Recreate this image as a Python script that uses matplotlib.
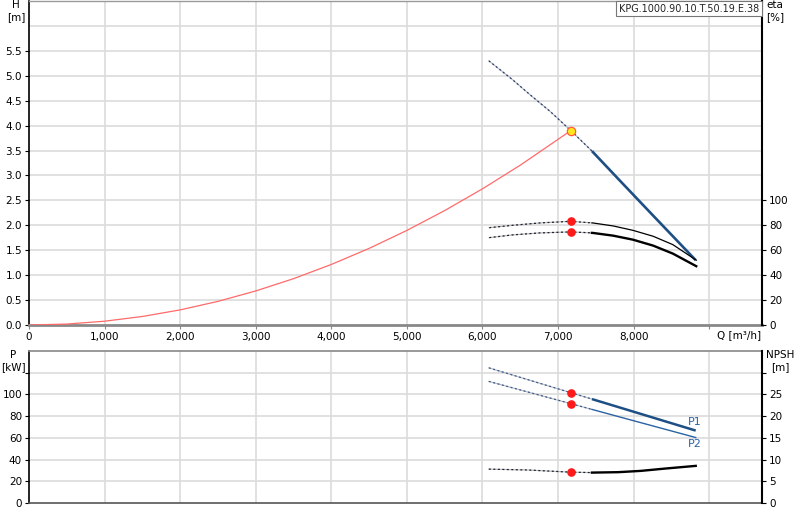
import matplotlib
matplotlib.use("Agg")
import matplotlib.pyplot as plt
from matplotlib.ticker import FuncFormatter

# ---------------- data ----------------
q_sys = [0, 500, 1000, 1500, 2000, 2500, 3000, 3500, 4000, 4500, 5000, 5500, 6000, 6500, 7170]
h_sys = [0.0, 0.019, 0.076, 0.171, 0.303, 0.474, 0.683, 0.929, 1.214, 1.536, 1.897, 2.295, 2.731, 3.205, 3.90]

q_pump = [6085, 6400, 6630, 6900, 7170, 7443, 7817, 8300, 8823]
h_pump = [5.30, 4.92, 4.62, 4.28, 3.90, 3.50, 2.90, 2.13, 1.30]

q_eta = [6090, 6400, 6760, 7165, 7460, 7730, 7990, 8260, 8520, 8830]
eta1 = [78.1, 80.0, 81.9, 83.2, 81.9, 79.5, 76.0, 71.2, 64.5, 52.0]
eta2 = [70.1, 72.3, 73.9, 74.7, 73.9, 71.7, 68.5, 63.7, 57.3, 47.2]

q_pow = [6085, 7170, 7450, 8000, 8823]
p1 = [124.5, 101.6, 95.7, 84.1, 66.7]
p2 = [112.0, 91.5, 86.2, 75.8, 60.3]

q_npsh = [6085, 6600, 7170, 7450, 7800, 8100, 8400, 8823]
npsh = [7.8, 7.6, 7.1, 7.0, 7.1, 7.4, 7.9, 8.55]

q_duty = 7170
h_duty = 3.90
eta1_duty, eta2_duty = 83.2, 74.7
p1_duty, p2_duty = 101.6, 91.5
npsh_duty = 7.1
q_solid = 7450  # start of the solid (valid) part of the curves

x_ticks = [0, 1000, 2000, 3000, 4000, 5000, 6000, 7000, 8000, 9000]
x_labels = ["0", "1,000", "2,000", "3,000", "4,000", "5,000", "6,000", "7,000", "8,000", ""]
h_ticks = [0.0, 0.5, 1.0, 1.5, 2.0, 2.5, 3.0, 3.5, 4.0, 4.5, 5.0, 5.5]
eta_ticks = [0, 20, 40, 60, 80, 100]
p_ticks = [0, 20, 40, 60, 80, 100, 120]
p_labels = ["0", "20", "40", "60", "80", "100", ""]
npsh_ticks = [0, 5, 10, 15, 20, 25, 30]
npsh_labels = ["0", "5", "10", "15", "20", "25", ""]

title = "KPG.1000.90.10.T.50.19.E.38"

# ---------------- style ----------------
plt.rcParams['font.family'] = ['DejaVu Sans']
FS = 7.5
GRID = '#dcdcdc'
BLUE = '#1d4f85'
BLUE2 = '#2a63a3'
DASH_GRAY = '#b4b8c4'


def split(qs, vs, q0):
    dq = [q for q in qs if q <= q0]
    dv = [v for q, v in zip(qs, vs) if q <= q0]
    sq = [q for q in qs if q >= q0]
    sv = [v for q, v in zip(qs, vs) if q >= q0]
    if dq[-1] != q0:
        i = len(dq)
        t = (q0 - qs[i - 1]) / (qs[i] - qs[i - 1])
        v0 = vs[i - 1] + t * (vs[i] - vs[i - 1])
        dq = dq + [q0]
        dv = dv + [v0]
        sq = [q0] + sq
        sv = [v0] + sv
    return dq, dv, sq, sv


def dashed(ax, x, y, dark):
    ax.plot(x, y, color=DASH_GRAY, lw=0.8, zorder=3)
    ax.plot(x, y, color=dark, lw=0.9, dashes=(1.6, 2.0), zorder=3.1)


fig = plt.figure(figsize=(8, 5.2), dpi=100)

# ---------------- top axes: H / eta ----------------
ax1 = fig.add_axes([29 / 800, 1 - 325 / 520, 733 / 800, 324 / 520])
ax1.set_xlim(0, 9700)
ax1.set_ylim(0, 6.5)
ax1.set_xticks(x_ticks)
ax1.set_xticklabels(x_labels, fontsize=FS)
ax1.set_yticks(h_ticks)
ax1.yaxis.set_major_formatter(FuncFormatter(lambda v, p: f"{v:.1f}"))
ax1.tick_params(axis='both', labelsize=FS, length=3, width=0.8, pad=2, colors='black')
ax1.tick_params(axis='x', length=3, color='#888888')
for v in h_ticks[1:] + [6.0]:
    ax1.axhline(v, color=GRID, lw=1.2, zorder=0)
for v in x_ticks[1:]:
    ax1.axvline(v, color=GRID, lw=1.2, zorder=0)
ax1.spines['left'].set_color('black')
ax1.spines['left'].set_linewidth(1.2)
ax1.spines['bottom'].set_color('#888888')
ax1.spines['bottom'].set_linewidth(2.0)
ax1.spines['top'].set_color('#999999')
ax1.spines['top'].set_linewidth(1.0)
ax1.spines['right'].set_visible(False)

ax1.plot(q_sys, h_sys, color='#ff6a6a', lw=0.9, zorder=4)

dq, dv, sq, sv = split(q_pump, h_pump, q_solid)
dashed(ax1, dq, dv, '#2b3f6b')
ax1.plot(sq, sv, color=BLUE, lw=1.9, solid_capstyle='butt', zorder=4)
ax1.plot([q_duty], [h_duty], marker='o', ms=6, mfc='#ffe81a', mec='#ff5a3a', mew=0.9, zorder=6)

ax1r = ax1.twinx()
ax1r.set_ylim(0, 260)
ax1r.set_yticks(eta_ticks)
ax1r.tick_params(axis='y', labelsize=FS, length=3, width=0.8, pad=2, colors='black')
ax1r.spines['right'].set_color('black')
ax1r.spines['right'].set_linewidth(1.5)
for s in ['left', 'top', 'bottom']:
    ax1r.spines[s].set_visible(False)

dq, dv, sq, sv = split(q_eta, eta1, q_solid)
dashed(ax1r, dq, dv, '#222222')
ax1r.plot(sq, sv, color='black', lw=0.9, zorder=4)
dq, dv, sq, sv = split(q_eta, eta2, q_solid)
dashed(ax1r, dq, dv, '#222222')
ax1r.plot(sq, sv, color='black', lw=1.7, zorder=4)
ax1r.plot([q_duty, q_duty], [eta1_duty, eta2_duty], 'o', ms=5.2, color='#ff1a1a', zorder=6, ls='none')

# ---------------- bottom axes: P / NPSH ----------------
ax2 = fig.add_axes([29 / 800, 1 - 503 / 520, 733 / 800, 152 / 520])
ax2.set_xlim(0, 9700)
ax2.set_ylim(0, 140)
ax2.set_xticks(x_ticks)
ax2.set_xticklabels([])
ax2.tick_params(axis='x', length=0)
ax2.set_yticks(p_ticks)
ax2.set_yticklabels(p_labels)
ax2.tick_params(axis='y', labelsize=FS, length=3, width=0.8, pad=2, colors='black')
for v in p_ticks[1:]:
    ax2.axhline(v, color=GRID, lw=1.2, zorder=0)
for v in x_ticks[1:]:
    ax2.axvline(v, color=GRID, lw=1.2, zorder=0)
ax2.spines['left'].set_color('black')
ax2.spines['left'].set_linewidth(1.2)
ax2.spines['bottom'].set_color('#555555')
ax2.spines['bottom'].set_linewidth(1.2)
ax2.spines['top'].set_color('#888888')
ax2.spines['top'].set_linewidth(1.2)
ax2.spines['right'].set_visible(False)

dq, dv, sq, sv = split(q_pow, p1, q_solid)
dashed(ax2, dq, dv, '#3b5a8a')
ax2.plot(sq, sv, color=BLUE, lw=1.8, solid_capstyle='butt', zorder=4)
dq, dv, sq, sv = split(q_pow, p2, q_solid)
dashed(ax2, dq, dv, '#3b5a8a')
ax2.plot(sq, sv, color=BLUE2, lw=1.0, zorder=4)
ax2.plot([q_duty, q_duty], [p1_duty, p2_duty], 'o', ms=5.2, color='#ff1a1a', zorder=6, ls='none')
ax2.text(8813, 74.6, "P1", color=BLUE2, fontsize=FS + 0.5, ha='center', va='center')
ax2.text(8813, 54.1, "P2", color=BLUE2, fontsize=FS + 0.5, ha='center', va='center')

ax2r = ax2.twinx()
ax2r.set_ylim(0, 35)
ax2r.set_yticks(npsh_ticks)
ax2r.set_yticklabels(npsh_labels)
ax2r.tick_params(axis='y', labelsize=FS, length=3, width=0.8, pad=2, colors='black')
ax2r.spines['right'].set_color('black')
ax2r.spines['right'].set_linewidth(1.5)
for s in ['left', 'top', 'bottom']:
    ax2r.spines[s].set_visible(False)

dq, dv, sq, sv = split(q_npsh, npsh, q_solid)
dashed(ax2r, dq, dv, '#222222')
ax2r.plot(sq, sv, color='black', lw=1.7, zorder=4)
ax2r.plot([q_duty], [npsh_duty], 'o', ms=5.2, color='#ff1a1a', zorder=6)

# ---------------- labels ----------------
fig.text(16 / 800, 1 - 11 / 520, "H\n[m]", ha='center', va='center', fontsize=FS, linespacing=1.25)
fig.text(766 / 800, 1 - 11 / 520, "eta\n[%]", ha='left', va='center', fontsize=FS, linespacing=1.25)
fig.text(739 / 800, 1 - 335 / 520, "Q [m³/h]", ha='center', va='center', fontsize=FS)
fig.text(13 / 800, 1 - 361 / 520, "P\n[kW]", ha='center', va='center', fontsize=FS, linespacing=1.25)
fig.text(780 / 800, 1 - 361 / 520, "NPSH\n[m]", ha='center', va='center', fontsize=FS, linespacing=1.25)
fig.text(759 / 800, 1 - 8.5 / 520, title, ha='right', va='center', fontsize=6.9, color='#222222',
         bbox=dict(boxstyle='square,pad=0.3', fc='white', ec='#777777', lw=0.8))

fig.savefig("out.png", dpi=100)
